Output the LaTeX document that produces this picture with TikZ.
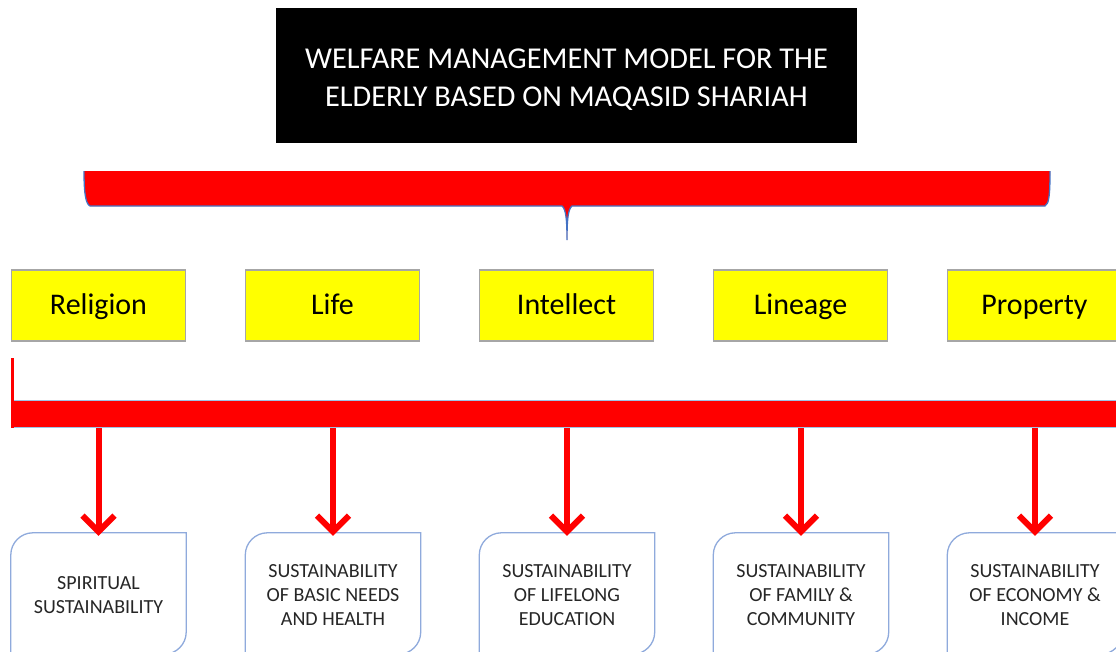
\documentclass[tikz,border=0pt]{standalone}
\usepackage{fontspec}
\setmainfont{Carlito}
\usetikzlibrary{arrows.meta,calc}
\definecolor{braceblue}{HTML}{4472C4}
\definecolor{barblue}{HTML}{9DC3E6}
\definecolor{boxblue}{HTML}{8FAADC}
\definecolor{ybord}{HTML}{A6A6A6}
\definecolor{pureyellow}{HTML}{FFFF00}
\definecolor{txtgray}{HTML}{262626}
\tikzset{
  titlebox/.style={fill=black, minimum width=581pt, minimum height=135pt, inner sep=0pt},
  titletext/.style={text=white, inner sep=0pt, align=center, font=\fontsize{30.3}{38}\selectfont},
  maqbox/.style={fill=pureyellow, draw=ybord, line width=1.2pt, minimum width=174pt, minimum height=71pt, inner sep=0pt, text height=21pt, text depth=4pt, font=\fontsize{30}{36}\selectfont},
  outbox/.style={minimum width=175pt, minimum height=121pt, inner sep=0pt},
  outtext/.style={inner sep=0pt, align=center, text=txtgray, font=\fontsize{20}{24}\selectfont},
  outline/.style={draw=boxblue, line width=1.3pt},
  arr/.style={draw=red, line width=6pt, -{Straight Barb[length=16pt,width=32pt,line width=6pt]}, shorten >=-3pt},
}
\begin{document}
\begin{tikzpicture}[x=1pt,y=-1pt]
\path[use as bounding box, clip] (0,0) rectangle (1116,651);
% title
\node[titlebox] (title) at (566.5,75.5) {};
\node[titletext] (ttext) at (566.5,80) {WELFARE MANAGEMENT MODEL FOR THE\\ELDERLY BASED ON MAQASID SHARIAH};
% brace
\coordinate (spike) at (567,240);
\fill[red] (84,171) -- (1050,171) .. controls (1050,195) and (1049,204) .. (1045,206) -- (572,206) .. controls (568,209) and (567,220) .. (spike) .. controls (567,220) and (566,209) .. (562,206) -- (90,206) .. controls (86,204) and (84,195) .. (84,171) -- cycle;
\draw[braceblue, line width=1.3pt] (1050,171) .. controls (1050,195) and (1049,204) .. (1045,206) -- (572,206) .. controls (568,209) and (567,220) .. (spike) .. controls (567,220) and (566,209) .. (562,206) -- (90,206) .. controls (86,204) and (84,195) .. (84,171);
% maqasid boxes
\node[maqbox] (m1) at (98.5,305.5) {Religion};
\node[maqbox] (m2) at (332.5,305.5) {Life};
\node[maqbox] (m3) at (566.5,305.5) {Intellect};
\node[maqbox] (m4) at (800.5,305.5) {Lineage};
\node[maqbox] (m5) at (1034.5,305.5) {Property};
% bar
\node[fill=red, draw=barblue, line width=1.2pt, minimum width=1110pt, minimum height=27pt, inner sep=0pt, anchor=north west] (bar) at (12,400) {};
\coordinate (vtop) at (12,358);
\draw[red, line width=3pt] (vtop) -- (bar.south west);
% outcome boxes
\node[outbox] (s1) at (98.5,593.5) {};
\node[outbox] (s2) at (333,593.5) {};
\node[outbox] (s3) at (567,593.5) {};
\node[outbox] (s4) at (801,593.5) {};
\node[outbox] (s5) at (1035,593.5) {};
\node[outtext] (t1) at ($(s1)+(0,1.5)$) {SPIRITUAL\\SUSTAINABILITY};
\node[outtext] (t2) at ($(s2)+(0,1.5)$) {SUSTAINABILITY\\OF BASIC NEEDS\\AND HEALTH};
\node[outtext] (t3) at ($(s3)+(0,1.5)$) {SUSTAINABILITY\\OF LIFELONG\\EDUCATION};
\node[outtext] (t4) at ($(s4)+(0,1.5)$) {SUSTAINABILITY\\OF FAMILY \&\\COMMUNITY};
\node[outtext] (t5) at ($(s5)+(0,1.5)$) {SUSTAINABILITY\\OF ECONOMY \&\\INCOME};
\foreach \s in {s1,s2,s3,s4,s5}{
  \draw[outline] (\s.south west) -- ($(\s.north west)+(0,22)$) .. controls ($(\s.north west)+(0,10)$) and ($(\s.north west)+(10,0)$) .. ($(\s.north west)+(22,0)$) -- (\s.north east) -- ($(\s.south east)+(0,-22)$) .. controls ($(\s.south east)+(0,-10)$) and ($(\s.south east)+(-10,0)$) .. ($(\s.south east)+(-22,0)$) -- cycle;
}
% arrows
\foreach \s in {s1,s2,s3,s4,s5}{
  \draw[arr] (bar.south -| \s.north) -- (\s.north);
}
\end{tikzpicture}
\end{document}
